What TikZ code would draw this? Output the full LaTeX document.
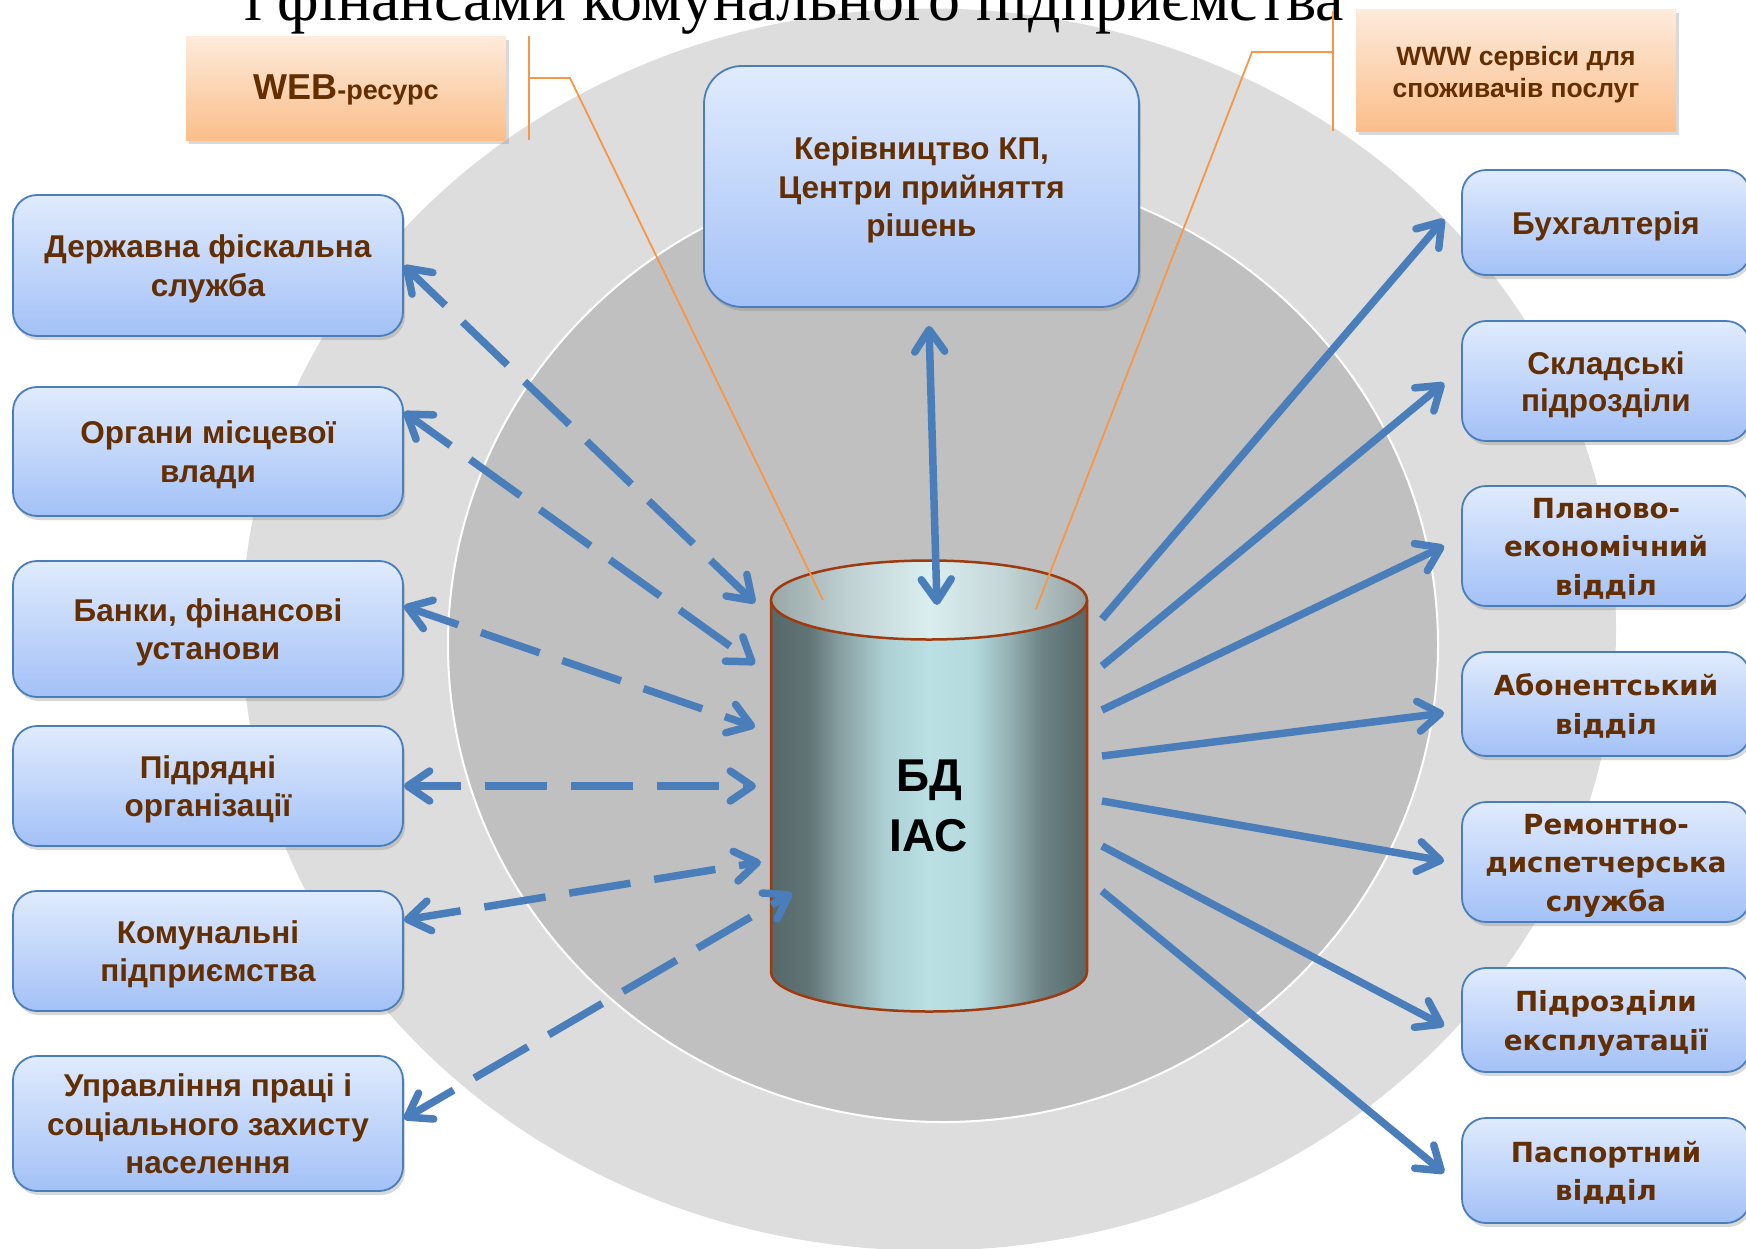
\documentclass[tikz,border=0pt]{standalone}
\usepackage{fontspec}
\setmainfont{Liberation Sans}
\newfontfamily\serifttl{Liberation Serif}
\newfontfamily\widefont{DejaVu Sans}
\usetikzlibrary{arrows.meta,shadows}

\definecolor{outerg}{RGB}{221,221,221}
\definecolor{innerg}{RGB}{192,192,192}
\definecolor{boxtop}{RGB}{224,235,253}
\definecolor{boxbot}{RGB}{163,193,247}
\definecolor{boxline}{RGB}{74,126,187}
\definecolor{txtbrown}{RGB}{99,46,2}
\definecolor{orgtop}{RGB}{253,235,220}
\definecolor{orgbot}{RGB}{251,190,138}
\definecolor{orgline}{RGB}{247,150,70}
\definecolor{arrblue}{RGB}{74,126,187}
\definecolor{cylline}{RGB}{158,58,14}
\definecolor{cA}{RGB}{86,104,106}
\definecolor{cB}{RGB}{96,115,117}
\definecolor{cC}{RGB}{135,160,162}
\definecolor{cD}{RGB}{172,208,211}
\definecolor{cE}{RGB}{186,224,228}
\definecolor{cF}{RGB}{180,218,222}
\definecolor{cG}{RGB}{150,178,180}
\definecolor{cH}{RGB}{108,130,132}
\definecolor{tA}{RGB}{152,166,166}
\definecolor{tB}{RGB}{190,208,210}
\definecolor{tC}{RGB}{218,238,240}
\definecolor{tD}{RGB}{195,213,214}
\definecolor{tE}{RGB}{150,162,162}

\pgfdeclarehorizontalshading{cylbody}{100bp}{color(0bp)=(cA); color(25bp)=(cA); color(31bp)=(cB); color(36bp)=(cC); color(43bp)=(cD); color(50bp)=(cE); color(57bp)=(cF); color(62.5bp)=(cG); color(68bp)=(cH); color(75bp)=(cA); color(100bp)=(cA)}
\pgfdeclarehorizontalshading{cyltop}{100bp}{color(0bp)=(tA); color(25bp)=(tA); color(37bp)=(tB); color(50bp)=(tC); color(62bp)=(tD); color(75bp)=(tE); color(100bp)=(tE)}

% struts that fix the vertical placement of box texts
\newcommand\tsA{\rule{0pt}{31pt}}
\newcommand\tsB{\rule[-8pt]{0pt}{8pt}}
\newcommand\tsC{\rule{0pt}{28.6pt}}
\newcommand\tsD{\rule[-7pt]{0pt}{7pt}}
\newcommand\tsE{\rule[-6pt]{0pt}{6pt}}

\begin{document}
\begin{tikzpicture}[x=1pt,y=-1pt,
  bluebox/.style={draw=boxline, line width=1.8pt, rounded corners=24pt,
    top color=boxtop, bottom color=boxbot, inner sep=0pt, align=center,
    text=txtbrown, font=\bfseries\fontsize{31.5}{38.5}\selectfont,
    drop shadow={shadow xshift=2pt,shadow yshift=-4pt,opacity=.3}},
  widebox/.style={bluebox, font=\widefont\bfseries\fontsize{27.7}{38.5}\selectfont},
  orgbox/.style={top color=orgtop, bottom color=orgbot, draw=none, inner sep=0pt,
    align=center, text=txtbrown, font=\bfseries\fontsize{26.5}{32}\selectfont,
    drop shadow={shadow xshift=3pt,shadow yshift=-4pt,opacity=.3}},
  callout/.style={draw=orgline, line width=1.8pt},
  solarr/.style={draw=arrblue, line width=7.5pt},
  dasharr/.style={solarr, dash pattern=on 62pt off 24pt, dash phase=12pt},
  >={Straight Barb[length=22pt,width=30pt,round]}]

\useasboundingbox (0,0) rectangle (1746,1248);
\fill[white] (0,0) rectangle (1746,1248);

% background rings
\fill[outerg] (929,629.5) ellipse [x radius=687, y radius=621];
\filldraw[fill=innerg, draw=white, line width=2pt] (943,645) ellipse [x radius=495, y radius=477];

% clipped title line
\node[anchor=base west, inner sep=0pt, font=\serifttl\fontsize{64}{64}\selectfont] (title) at (244,20) {і фінансами комунального підприємства};

% orange boxes
\node[orgbox, minimum width=320, minimum height=104] (web) at (346,88)
  {\rule{0pt}{29pt}{\fontsize{36}{40}\selectfont WEB}{\fontsize{27}{30}\selectfont -ресурс}\tsE};
\node[orgbox, minimum width=320, minimum height=122] (www) at (1516,70)
  {\rule{0pt}{28.8pt}WWW сервіси для\\споживачів послуг\tsE};

% cylinder
\path[shading=cylbody] (771,600) -- (771,972) arc[start angle=180,end angle=0,x radius=158,y radius=39.5] -- (1087,600) -- cycle;
\draw[cylline, line width=2.5pt] (771,600) -- (771,972) arc[start angle=180,end angle=0,x radius=158,y radius=39.5] -- (1087,600);
\path[shading=cyltop, draw=cylline, line width=2.5pt] (929,600) ellipse [x radius=158, y radius=39.5];
\node[align=center, inner sep=0pt, font=\bfseries\fontsize{46}{60}\selectfont] (db) at (929,806) {БД\\ІАС};

% top box
\node[bluebox, rounded corners=38pt, minimum width=435, minimum height=241] (k) at (921.5,186.5)
  {\tsA Керівництво КП,\\Центри прийняття\\рішень\tsB};

% left boxes
\node[bluebox, minimum width=390, minimum height=141] (d1) at (208,265.5) {\tsA Державна фіскальна\\служба\tsB};
\node[bluebox, minimum width=390, minimum height=129] (d2) at (208,451.5) {\tsA Органи місцевої\\влади\tsB};
\node[bluebox, minimum width=390, minimum height=136] (d3) at (208,629) {\tsA Банки, фінансові\\установи\tsB};
\node[bluebox, minimum width=390, minimum height=120] (d4) at (208,786) {\tsA Підрядні\\організації\tsB};
\node[bluebox, minimum width=390, minimum height=120] (d5) at (208,951) {\tsA Комунальні\\підприємства\tsB};
\node[bluebox, minimum width=390, minimum height=135] (d6) at (208,1123.5) {\tsA Управління праці і\\соціального захисту\\населення\tsB};

% right boxes
\node[bluebox, minimum width=288, minimum height=105] (r1) at (1606,222.5) {\tsA Бухгалтерія\tsB};
\node[bluebox, font=\bfseries\fontsize{31.5}{37}\selectfont, minimum width=288, minimum height=120] (r2) at (1606,381) {\tsA Складські\\підрозділи\tsB};
\node[widebox, minimum width=288, minimum height=120] (r3) at (1606,546) {\tsC Планово-\\економічний\\відділ\tsD};
\node[widebox, minimum width=288, minimum height=104] (r4) at (1606,704) {\tsC Абонентський\\відділ\tsD};
\node[widebox, minimum width=288, minimum height=120] (r5) at (1606,862) {\tsC Ремонтно-\\диспетчерська\\служба\tsD};
\node[widebox, minimum width=288, minimum height=104] (r6) at (1606,1020) {\tsC Підрозділи\\експлуатації\tsD};
\node[widebox, minimum width=288, minimum height=105] (r7) at (1606,1170.5) {\tsC Паспортний\\відділ\tsD};

% connector end points at the cylinder
\coordinate (L1) at (755,603);
\coordinate (L2) at (755,664);
\coordinate (L3) at (755,727);
\coordinate (L4) at (756,786);
\coordinate (L5) at (761,862);
\coordinate (L6) at (792,893);
\coordinate (R1) at (1102,619);
\coordinate (R2) at (1102,666);
\coordinate (R3) at (1102,710);
\coordinate (R4) at (1102,756);
\coordinate (R5) at (1102,801);
\coordinate (R6) at (1102,846);
\coordinate (R7) at (1102,891);
\coordinate (T2) at (937,605);

% left dashed double arrows
\draw[dasharr,<->] (d1.east) -- (L1);
\draw[dasharr,<->] ([yshift=39.5pt]d2.east) -- (L2);
\draw[dasharr,<->] ([yshift=23pt]d3.east) -- (L3);
\draw[dasharr,<->] (d4.east) -- (L4);
\draw[dasharr,<->] ([yshift=31pt]d5.east) -- (L5);
\draw[dasharr,<->] ([yshift=4.5pt]d6.east) -- (L6);

% top double arrow
\draw[solarr,<->] ([xshift=7.5pt,yshift=-18pt]k.south) -- (T2);

% right arrows
\draw[solarr,->] (R1) -- ([xshift=-17pt,yshift=3.5pt]r1.west);
\draw[solarr,->] (R2) -- ([xshift=-17pt,yshift=-2pt]r2.west);
\draw[solarr,->] (R3) -- ([xshift=-17pt]r3.west);
\draw[solarr,->] (R4) -- ([xshift=-17pt,yshift=-9pt]r4.west);
\draw[solarr,->] (R5) -- ([xshift=-17pt,yshift=1pt]r5.west);
\draw[solarr,->] (R6) -- ([xshift=-17pt,yshift=-6pt]r6.west);
\draw[solarr,->] (R7) -- ([xshift=-17pt,yshift=-2.5pt]r7.west);

% callout lines
\coordinate (wa) at (529,36);
\coordinate (wb) at (529,140);
\coordinate (wc) at (529,78);
\coordinate (wd) at (570,78);
\coordinate (we) at (823,600);
\draw[callout] (wa) -- (wb);
\draw[callout] (wc) -- (wd) -- (we);
\coordinate (va) at (1333,11);
\coordinate (vb) at (1333,131);
\coordinate (vc) at (1333,52);
\coordinate (vd) at (1252,52);
\coordinate (ve) at (1036,609);
\draw[callout] (va) -- (vb);
\draw[callout] (vc) -- (vd) -- (ve);
\end{tikzpicture}
\end{document}
